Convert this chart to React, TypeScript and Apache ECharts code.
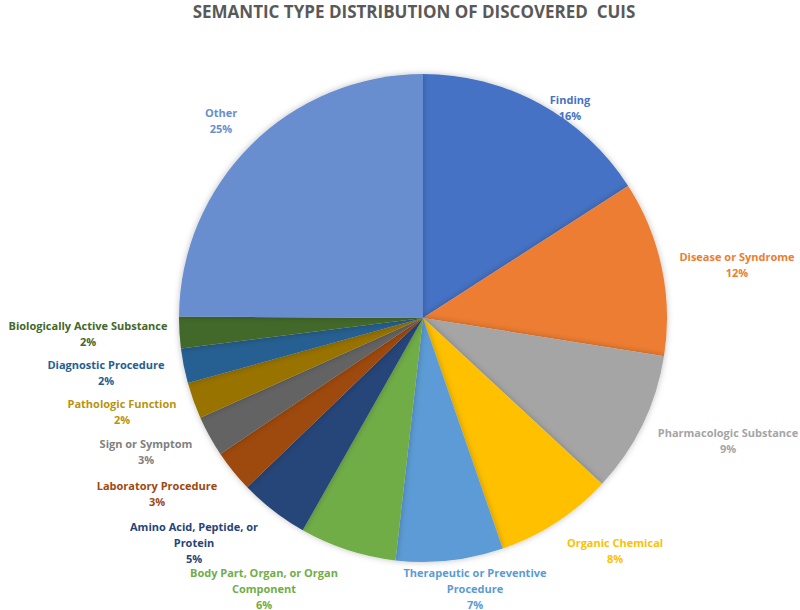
import React, { useEffect, useRef } from "react";
import * as echarts from "echarts";

const categories = [
  "Finding",
  "Disease or Syndrome",
  "Pharmacologic Substance",
  "Organic Chemical",
  "Therapeutic or Preventive Procedure",
  "Body Part, Organ, or Organ Component",
  "Amino Acid, Peptide, or Protein",
  "Laboratory Procedure",
  "Sign or Symptom",
  "Pathologic Function",
  "Diagnostic Procedure",
  "Biologically Active Substance",
  "Other",
];

const values = [15.9, 11.6, 9.4, 7.8, 7.1, 6.4, 4.6, 2.8, 2.7, 2.4, 2.3, 2.1, 24.9];

const sliceColors = [
  "#4472C4", "#ED7D31", "#A5A5A5", "#FFC000", "#5B9BD5", "#70AD47",
  "#264478", "#9E480E", "#636363", "#997300", "#255E91", "#43682B", "#698ED0",
];

const labelColors = [
  "#4472C4", "#ED7D31", "#A5A5A5", "#FFC000", "#5B9BD5", "#70AD47",
  "#264478", "#9E480E", "#7F7F7F", "#B8930F", "#255E91", "#43682B", "#698ED0",
];

// label text with manual line wrapping
const labelLines: Record<string, string> = {
  "Therapeutic or Preventive Procedure": "Therapeutic or Preventive\nProcedure",
  "Body Part, Organ, or Organ Component": "Body Part, Organ, or Organ\nComponent",
  "Amino Acid, Peptide, or Protein": "Amino Acid, Peptide, or\nProtein",
};

// label block centers (layout only)
const labelAnchors: [number, number][] = [
  [570, 107], [737, 264], [728, 440], [615, 550], [475, 588], [264, 588],
  [194, 542], [157, 493], [146, 451], [122, 411], [106, 372], [88, 333], [221, 120],
];

const title = "SEMANTIC TYPE DISTRIBUTION OF DISCOVERED  CUIS";

export default function App() {
  const ref = useRef<HTMLDivElement>(null);
  useEffect(() => {
    if (!ref.current) return;
    const chart = echarts.init(ref.current, undefined, { renderer: "svg" });
    chart.setOption({
      animation: false,
      backgroundColor: "#ffffff",
      title: {
        text: title,
        left: 409,
        top: -2,
        textAlign: "center",
        textStyle: {
          fontFamily: "Open Sans",
          fontWeight: "bold",
          fontSize: 17,
          color: "#595959",
        },
      },
      series: [
        {
          type: "pie",
          center: [423, 318],
          radius: [0, 244],
          startAngle: 90,
          clockwise: true,
          avoidLabelOverlap: false,
          itemStyle: {
            borderWidth: 0,
            shadowBlur: 6,
            shadowColor: "rgba(0,0,0,0.25)",
          },
          labelLine: { show: false },
          label: {
            show: true,
            position: "outside",
            fontFamily: "Open Sans",
            fontWeight: "bold",
            fontSize: 11,
            lineHeight: 16,
            align: "center",
            formatter: (p: any) =>
              (labelLines[p.name] || p.name) + "\n" + Math.round(p.percent) + "%",
          },
          labelLayout: (p: any) => {
            const a = labelAnchors[p.dataIndex];
            return { x: a[0], y: a[1], align: "center", verticalAlign: "middle" };
          },
          emphasis: { disabled: true },
          data: categories.map((c, i) => ({
            name: c,
            value: values[i],
            itemStyle: { color: sliceColors[i] },
            label: { color: labelColors[i] },
          })),
        },
      ],
    });
    return () => chart.dispose();
  }, []);
  return (
    <div
      ref={ref}
      style={{ position: "fixed", left: 0, top: 0, width: 800, height: 610 }}
    />
  );
}
